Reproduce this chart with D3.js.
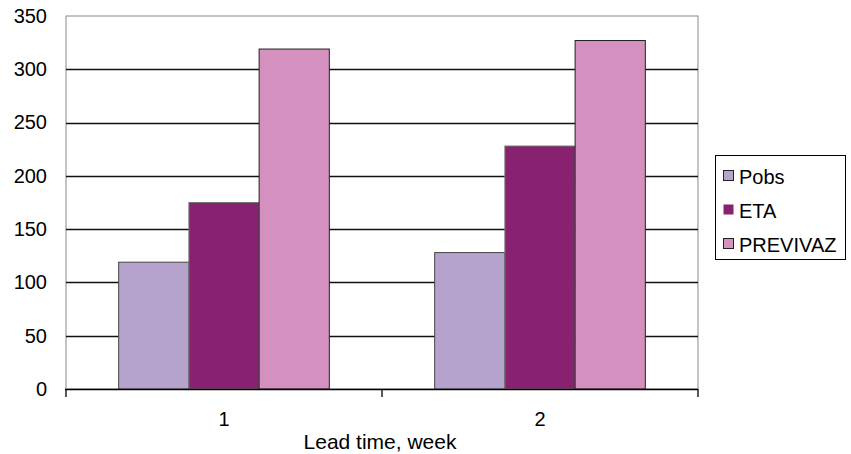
<!DOCTYPE html>
<html>
<head>
<meta charset="utf-8">
<script src="https://cdn.jsdelivr.net/npm/d3@7"></script>
<style>
  html, body { margin: 0; padding: 0; background: #fff; }
  svg { display: block; font-family: "Liberation Sans", Arial, sans-serif; }
</style>
</head>
<body>
<svg id="chart" width="851" height="454"></svg>
<script>
// Lead-time categories and the three series plotted for each
const categories = ["1", "2"];
const seriesNames = ["Pobs", "ETA", "PREVIVAZ"];
const pobs = [119, 128];
const eta = [175, 228];
const previvaz = [319, 327];
const yTicks = [0, 50, 100, 150, 200, 250, 300, 350];
const xTitle = "Lead time, week";

const seriesValues = [pobs, eta, previvaz];
const colors = ["#B6A3CD", "#882270", "#D490BE"];
const strokes = ["#444", "#777", "#222"];

const svg = d3.select("#chart");
const margin = { left: 66, right: 153, top: 16, bottom: 65 };
const W = 851, H = 454;
const plotW = W - margin.left - margin.right;
const plotH = H - margin.top - margin.bottom;

const g = svg.append("g").attr("transform", `translate(${margin.left},${margin.top})`);

const x0 = d3.scaleBand().domain(categories).range([0, plotW]).paddingInner(0).paddingOuter(0);
const gapRatio = 1.5; // gap between groups, relative to one bar width
const barW = x0.bandwidth() / (seriesNames.length + gapRatio);
const x1 = d3.scaleBand().domain(seriesNames)
  .range([barW * gapRatio / 2, barW * gapRatio / 2 + barW * seriesNames.length]);
const y = d3.scaleLinear().domain([0, 350]).range([plotH, 0]);

// plot frame
g.append("rect").attr("x", 0).attr("y", 0).attr("width", plotW).attr("height", plotH)
  .attr("fill", "none").attr("stroke", "#8a8a8a").attr("stroke-width", 1);

// horizontal gridlines
g.append("g").selectAll("line").data(yTicks.filter(d => d > 0 && d < 350)).join("line")
  .attr("x1", 0).attr("x2", plotW)
  .attr("y1", d => Math.round(y(d)) + 0.5).attr("y2", d => Math.round(y(d)) + 0.5)
  .attr("stroke", "#111").attr("stroke-width", 1.3);

// bars
const groups = g.append("g").selectAll("g").data(categories).join("g")
  .attr("transform", d => `translate(${x0(d)},0)`);
groups.selectAll("rect")
  .data((c, ci) => seriesNames.map((s, si) => ({ s, si, v: seriesValues[si][ci] })))
  .join("rect")
  .attr("x", d => x1(d.s))
  .attr("y", d => y(d.v))
  .attr("width", x1.bandwidth())
  .attr("height", d => plotH - y(d.v))
  .attr("fill", d => colors[d.si])
  .attr("stroke", d => strokes[d.si])
  .attr("stroke-width", 1);

// y axis labels
const yAxis = d3.axisLeft(y).tickValues(yTicks).tickSize(0).tickPadding(19);
const ya = g.append("g").call(yAxis);
ya.select(".domain").remove();
ya.selectAll("text").attr("font-size", 20).attr("fill", "#000")
  .attr("font-family", "'Liberation Sans', Arial, sans-serif");

// x axis with category boundary ticks
const xa = g.append("g").attr("transform", `translate(0,${plotH})`);
xa.append("line").attr("x1", -1).attr("x2", plotW).attr("y1", 0.5).attr("y2", 0.5)
  .attr("stroke", "#000").attr("stroke-width", 1.5);
const bounds = categories.map(c => x0(c)).concat([plotW]);
xa.selectAll("line.tk").data(bounds).join("line").attr("class", "tk")
  .attr("x1", d => d).attr("x2", d => d).attr("y1", 0).attr("y2", 8)
  .attr("stroke", "#000").attr("stroke-width", 1.3);
xa.selectAll("text").data(categories).join("text")
  .attr("x", d => x0(d) + x0.bandwidth() / 2)
  .attr("y", 37)
  .attr("text-anchor", "middle")
  .attr("font-size", 20)
  .text(d => d);

// axis title
svg.append("text")
  .attr("x", margin.left + plotW / 2 - 2)
  .attr("y", 449)
  .attr("text-anchor", "middle")
  .attr("font-size", 21)
  .text(xTitle);

// legend
const lg = svg.append("g").attr("transform", "translate(715,155)");
lg.append("rect").attr("x", 0.5).attr("y", 0.5).attr("width", 130).attr("height", 104)
  .attr("fill", "#fff").attr("stroke", "#000").attr("stroke-width", 1);
const items = lg.selectAll("g.item").data(seriesNames).join("g").attr("class", "item")
  .attr("transform", (d, i) => `translate(8,${21 + i * 34})`);
items.append("rect").attr("x", 0.5).attr("y", -5.5).attr("width", 10).attr("height", 10)
  .attr("fill", (d, i) => colors[i]).attr("stroke", (d, i) => i === 1 ? "none" : "#222");
items.append("text").attr("x", 16).attr("y", 7.5).attr("font-size", 20).text(d => d);
</script>
</body>
</html>
